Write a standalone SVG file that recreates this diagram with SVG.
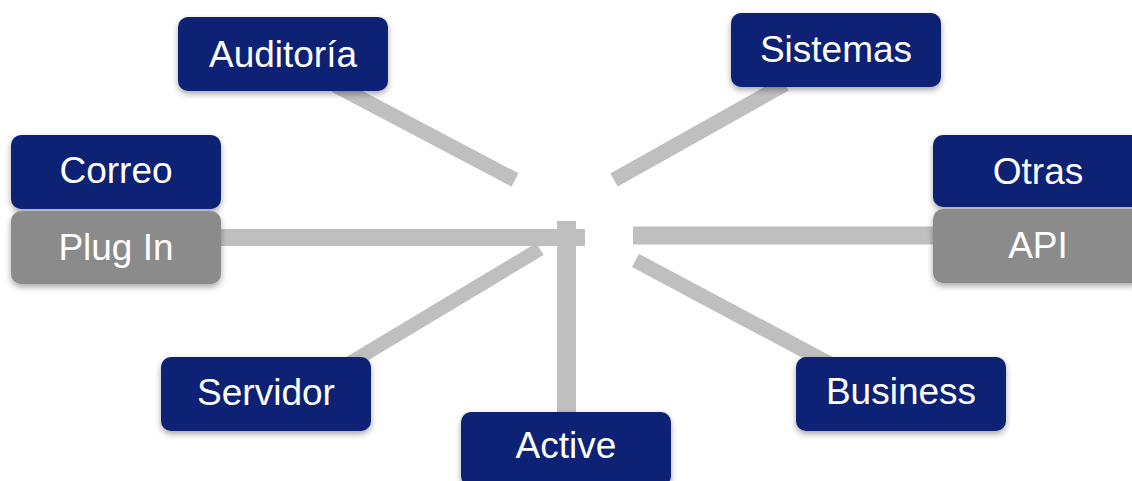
<svg xmlns="http://www.w3.org/2000/svg" width="1132" height="481" viewBox="0 0 1132 481">
<defs>
<filter id="sh" x="-10%" y="-20%" width="120%" height="150%">
<feDropShadow dx="0" dy="3" stdDeviation="3" flood-color="#000" flood-opacity="0.35"/>
</filter>
<style>
.blue{fill:#082075;filter:url(#sh)}
.grey{fill:#8B8B8B;filter:url(#sh)}
.lbl{font-family:"Liberation Sans",Arial,sans-serif;font-size:37px;fill:#fff;text-anchor:middle}
.ln{stroke:#BFBFBF;fill:none;stroke-linecap:butt}
</style>
</defs>
<rect width="1132" height="481" fill="#fff"/>
<g id="connectors">
<line class="ln" x1="335" y1="85" x2="515" y2="180" stroke-width="15"/>
<line class="ln" x1="785" y1="84" x2="614" y2="180" stroke-width="15"/>
<line class="ln" x1="215" y1="237.5" x2="585" y2="237.5" stroke-width="17"/>
<line class="ln" x1="633" y1="235.5" x2="940" y2="235.5" stroke-width="18"/>
<line class="ln" x1="566.5" y1="221" x2="566.5" y2="418" stroke-width="19"/>
<line class="ln" x1="540" y1="249" x2="350" y2="363" stroke-width="14"/>
<line class="ln" x1="635.5" y1="260.5" x2="845" y2="372" stroke-width="15"/>
</g>
<g id="auditoria"><rect class="blue" x="178" y="17" width="210" height="74" rx="10"/><text class="lbl" x="283" y="67">Auditoría</text></g>
<g id="sistemas"><rect class="blue" x="731" y="13" width="210" height="74" rx="10"/><text class="lbl" x="836" y="62">Sistemas</text></g>
<g id="correo"><rect class="blue" x="11" y="135" width="210" height="74" rx="10"/><text class="lbl" x="116" y="183">Correo</text></g>
<g id="plugin"><rect class="grey" x="11" y="211" width="210" height="73" rx="10"/><text class="lbl" x="116" y="260">Plug In</text></g>
<g id="otras"><rect class="blue" x="933" y="135" width="210" height="72" rx="10"/><text class="lbl" x="1038" y="184">Otras</text></g>
<g id="api"><rect class="grey" x="933" y="209" width="210" height="74" rx="10"/><text class="lbl" x="1038" y="258">API</text></g>
<g id="servidor"><rect class="blue" x="161" y="357" width="210" height="74" rx="10"/><text class="lbl" x="266" y="405">Servidor</text></g>
<g id="business"><rect class="blue" x="796" y="357" width="210" height="74" rx="10"/><text class="lbl" x="901" y="404">Business</text></g>
<g id="active"><rect class="blue" x="461" y="412" width="210" height="74" rx="10"/><text class="lbl" x="566" y="458">Active</text></g>
</svg>
